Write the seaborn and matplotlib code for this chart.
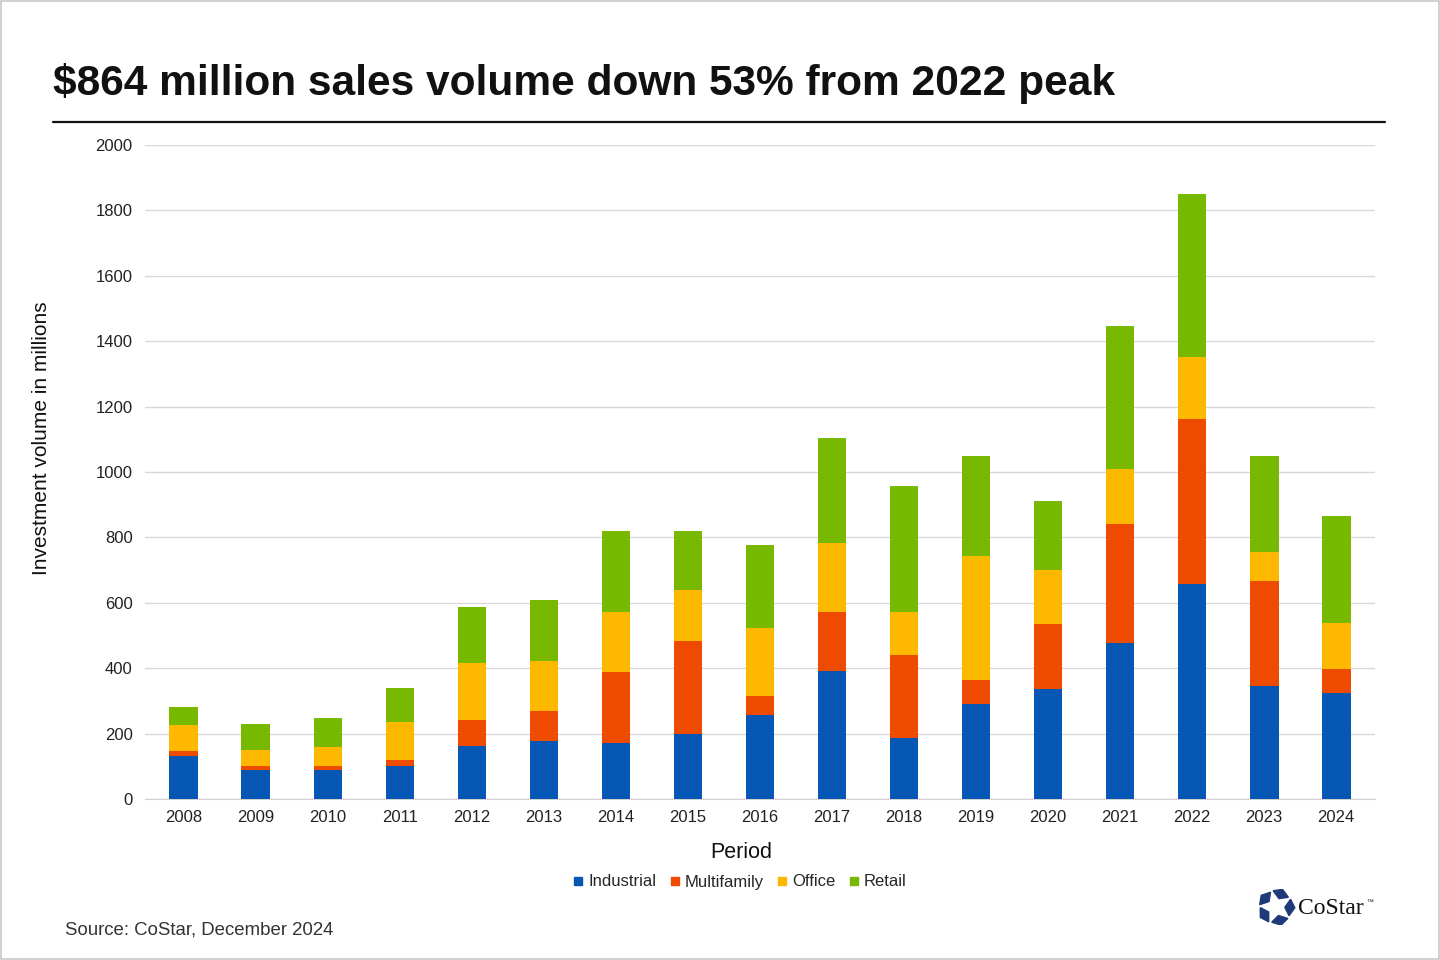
import numpy as np
import pandas as pd
import seaborn as sns
import matplotlib.pyplot as plt
from matplotlib.patches import Rectangle, Polygon
from matplotlib.lines import Line2D

# Data ($ millions)
years = [str(y) for y in range(2008, 2025)]
industrial = [131, 89, 89, 101, 162, 177, 171, 199, 257, 391, 187, 291, 336, 477, 657, 346, 324]
multifamily = [15, 12, 12, 18, 80, 92, 217, 284, 58, 181, 253, 73, 199, 364, 505, 321, 74]
office = [80, 49, 58, 116, 174, 153, 184, 156, 208, 211, 132, 379, 165, 168, 190, 88, 140]
retail = [55, 79, 89, 104, 171, 187, 248, 181, 254, 321, 385, 306, 211, 437, 498, 294, 326]

sectors = ['Industrial', 'Multifamily', 'Office', 'Retail']
colors = ['#0656b4', '#ee4a00', '#ffb800', '#76b900']

df = pd.DataFrame({'Period': years, 'Industrial': industrial, 'Multifamily': multifamily,
                   'Office': office, 'Retail': retail})

sns.set_style("white")
plt.rcParams['font.family'] = ['Liberation Sans', 'DejaVu Sans']

fig = plt.figure(figsize=(14.4, 9.6), dpi=100)
ax = fig.add_axes([145 / 1440, 1 - 799 / 960, 1230 / 1440, 654 / 960])

# stacked bars: draw cumulative totals from top layer down
cum = df[sectors].cumsum(axis=1)
for sec, col in reversed(list(zip(sectors, colors))):
    sns.barplot(x=df['Period'], y=cum[sec], color=col, width=0.4, ax=ax,
                saturation=1, linewidth=0, zorder=3)

ax.set_ylim(0, 2000)
ax.set_xlim(-0.54, 16.54)
ax.set_yticks(range(0, 2001, 200))
ax.yaxis.grid(True, color='#d9d9d9', linewidth=1, zorder=0)
ax.set_axisbelow(True)
for s in ['top', 'right', 'left']:
    ax.spines[s].set_visible(False)
ax.spines['bottom'].set_color('#d0d0d0')
ax.tick_params(axis='both', length=0, labelsize=12, colors='#222222')
ax.tick_params(axis='x', pad=8)
ax.tick_params(axis='y', pad=9)
ax.set_xlabel('')
ax.set_ylabel('')

fig.text(741 / 1440, 1 - 852 / 960, 'Period', fontsize=15.5, color='#111111',
         ha='center', va='center')
fig.text(42 / 1440, 1 - 438 / 960, 'Investment volume in millions', fontsize=15,
         color='#111111', rotation=90, ha='center', va='center')

# title and rule
fig.text(53 / 1440, 1 - 83 / 960, '$864 million sales volume down 53% from 2022 peak',
         fontsize=30.6, fontweight='bold', va='center', ha='left', color='#111111')
fig.add_artist(Line2D([53 / 1440, 1385 / 1440], [1 - 122 / 960, 1 - 122 / 960],
                      color='#111111', linewidth=1.6))

# legend
handles = [Line2D([], [], marker='s', linestyle='', color=c, markersize=6) for c in colors]
fig.legend(handles, sectors, loc='center', bbox_to_anchor=(740 / 1440, 1 - 882 / 960),
           ncol=4, frameon=False, fontsize=12, handlelength=0.6, handletextpad=0.3,
           columnspacing=0.8)

# source
fig.text(65 / 1440, 1 - 930 / 960, 'Source: CoStar, December 2024', fontsize=13.4,
         color='#333333', va='center', ha='left')

# CoStar logo
lax = fig.add_axes([1256 / 1440, 1 - 925 / 960, 40 / 1440, 36 / 960])
lax.set_xlim(-1.2, 1.2)
lax.set_ylim(-1.1, 1.1)
lax.set_aspect('equal')
lax.axis('off')
for k in range(5):
    a = np.deg2rad(90 + 72 * k)
    rot = np.array([[np.cos(a), -np.sin(a)], [np.sin(a), np.cos(a)]])
    pts = np.array([[0.35, 0.45], [0.95, 0.35], [0.75, 0.95], [0.15, 1.05]]) @ rot.T * 0.95
    lax.add_patch(Polygon(pts, closed=True, color='#1e3a78'))
fig.text(1298 / 1440, 1 - 908 / 960, 'CoStar', fontsize=17, family='Liberation Serif',
         color='#111111', va='center', ha='left')
fig.text(1366 / 1440, 1 - 903 / 960, '™', fontsize=5, color='#111111', va='center', ha='left')

# outer frame
fig.add_artist(Rectangle((0.001, 0.001), 0.998, 0.998, transform=fig.transFigure,
                         fill=False, edgecolor='#c8c8c8', linewidth=1.2))

fig.savefig('out.png', dpi=100)
